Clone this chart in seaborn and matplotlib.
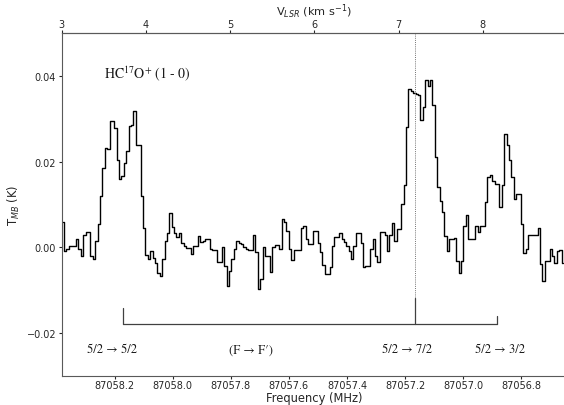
import numpy as np
import matplotlib
matplotlib.use("Agg")
import matplotlib.pyplot as plt
import seaborn as sns
import pandas as pd

# ---- spectrum (T_MB in K per channel, high to low frequency) ----
tmb = [
    0.0060, -0.0009, -0.0003, 0.0002, 0.0004, 0.0003, 0.0020, -0.0004, -0.0020, 0.0028,
    0.0035, 0.0036, -0.0020, -0.0028, 0.0015, 0.0054, 0.0121, 0.0185, 0.0232, 0.0230,
    0.0294, 0.0296, 0.0279, 0.0205, 0.0160, 0.0166, 0.0197, 0.0226, 0.0284, 0.0286,
    0.0318, 0.0238, 0.0238, 0.0119, 0.0046, -0.0019, -0.0027, -0.0009, -0.0024, -0.0036,
    -0.0060, -0.0066, -0.0027, 0.0015, 0.0033, 0.0081, 0.0048, 0.0034, 0.0025, 0.0034,
    0.0011, 0.0003, -0.0001, -0.0002, -0.0016,
    0.0002, 0.0003, 0.0027, 0.0013, 0.0015, 0.0020, 0.0019, -0.0005, -0.0006, -0.0006,
    -0.0035, -0.0035, 0.0000, -0.0044, -0.0091, -0.0056, -0.0028, -0.0005, 0.0015, 0.0011,
    0.0007, 0.0000, -0.0005, -0.0007, -0.0007, 0.0028, -0.0011, -0.0098, -0.0073, 0.0000,
    -0.0020, -0.0020, -0.0058, 0.0000, 0.0005, 0.0005, -0.0005, 0.0066, 0.0060, 0.0038,
    -0.0005, -0.0030, -0.0006, -0.0006, -0.0006, 0.0046, 0.0050, 0.0019, 0.0008, 0.0007,
    0.0038, 0.0037, 0.0011, -0.0012, -0.0042, -0.0063, -0.0062, -0.0045, 0.0003, 0.0025,
    0.0023, 0.0034, 0.0019, 0.0013, 0.0003, -0.0009, -0.0027, 0.0003, 0.0034, 0.0034,
    0.0011, -0.0045, -0.0044, -0.0043, -0.0003, 0.0020, -0.0020, -0.0035, 0.0036, 0.0035,
    0.0028, -0.0009, 0.0028, 0.0056, 0.0015, 0.0042, 0.0043, 0.0101, 0.0146, 0.0280,
    0.0371, 0.0365, 0.0361, 0.0358, 0.0356, 0.0297, 0.0327, 0.0390, 0.0378, 0.0390,
    0.0332, 0.0211, 0.0140, 0.0109, 0.0082, 0.0027, -0.0009, 0.0020, 0.0020, 0.0021,
    -0.0033, -0.0060, -0.0033, 0.0049, 0.0075, 0.0020, 0.0020, 0.0020, 0.0050, 0.0035,
    0.0050, 0.0050, 0.0107, 0.0164, 0.0168, 0.0156, 0.0148, 0.0148, 0.0093, 0.0146,
    0.0264, 0.0238, 0.0205, 0.0164, 0.0113, 0.0125, 0.0125, 0.0054, -0.0014, -0.0005,
    0.0028, 0.0028, 0.0028, 0.0028, 0.0046, -0.0040, -0.0079, -0.0032, -0.0032, -0.0003,
    -0.0020, -0.0036, -0.0009, -0.0006, -0.0036,
]
F_START = 87058.382      # MHz, first channel edge
CHAN_WIDTH = 0.00823     # MHz
F_END = 87056.6465       # MHz, right plot limit
V_START = 3.0            # km/s at F_START
KMS_PER_MHZ = 3.45
V_SYS = 7.2              # km/s

# hyperfine components (F -> F')
comp_freq = [87058.171, 87057.166, 87056.884]
comp_top = [-0.0142, -0.0119, -0.0161]
bracket_y = -0.0179
label_freq = [87058.207, 87057.729, 87057.192, 87056.873]
label_text = ["5/2 \u2192 5/2", "(F \u2192 F\u2032)", "5/2 \u2192 7/2", "5/2 \u2192 3/2"]
label_y = -0.0239

freq_ticks = [87058.2, 87058.0, 87057.8, 87057.6, 87057.4, 87057.2, 87057.0, 87056.8]
vel_ticks = [3, 4, 5, 6, 7, 8]
y_ticks = [-0.02, 0.0, 0.02, 0.04]

freq = F_START - CHAN_WIDTH * (np.arange(len(tmb)) + 0.5)
df = pd.DataFrame({"freq": freq, "tmb": tmb})

sns.set_style("ticks")
plt.rcParams["font.family"] = ["DejaVu Sans"]

fig = plt.figure(figsize=(5.64, 4.06), dpi=100)
ax = fig.add_axes([61.7 / 564, 29.3 / 406, 504.3 / 564, 342.4 / 406])

sns.lineplot(data=df, x="freq", y="tmb", drawstyle="steps-mid", color="black",
             linewidth=1.0, errorbar=None, ax=ax)

ax.set_xlim(F_START, F_END)
ax.set_ylim(-0.03, 0.05)

def f2v(f):
    return V_START + (F_START - np.asarray(f)) * KMS_PER_MHZ

def v2f(v):
    return F_START - (np.asarray(v) - V_START) / KMS_PER_MHZ

f_sys = float(v2f(V_SYS))
ax.plot([f_sys, f_sys], [0.05, comp_top[1]], color="0.45", linestyle=(0, (1, 1.2)), lw=0.7)

# bracket
ax.plot([comp_freq[0], comp_freq[2]], [bracket_y, bracket_y], color="0.25", lw=0.9)
for cf, ct in zip(comp_freq, comp_top):
    ax.plot([cf, cf], [bracket_y, ct], color="0.25", lw=0.9)

for lf, lt in zip(label_freq, label_text):
    ax.text(lf, label_y, lt, ha="center", va="center", fontsize=9,
            fontfamily="STIXGeneral", color="0.1")

ax.text(87058.238, 0.0409, "HC$^{17}$O$^{+}$ (1 - 0)", ha="left", va="center",
        fontsize=10, fontfamily="STIXGeneral", math_fontfamily="stix", color="0.1")

ax.set_xticks(freq_ticks)
ax.set_xticklabels([f"{t:.1f}" for t in freq_ticks])
ax.set_yticks(y_ticks)
ax.set_yticklabels(["\u22120.02", "0.00", "0.02", "0.04"])
ax.tick_params(axis="x", labelsize=7, length=2.5, pad=0.8, width=0.8)
ax.tick_params(axis="y", labelsize=7, length=2.5, pad=1.5, width=0.8)
ax.set_xlabel("Frequency (MHz)", fontsize=8.3, labelpad=0.3)
ax.set_ylabel("T$_{MB}$ (K)", fontsize=8.3, labelpad=3)

secax = ax.secondary_xaxis("top", functions=(f2v, v2f))
secax.set_xticks(vel_ticks)
secax.set_xticklabels([str(v) for v in vel_ticks])
secax.tick_params(labelsize=7, length=2.0, pad=0.8, width=0.8)
secax.set_xlabel("V$_{LSR}$ (km s$^{-1}$)", fontsize=8.2, labelpad=3.2)

for s in ["left", "bottom", "top"]:
    ax.spines[s].set_color("0.35")
    ax.spines[s].set_linewidth(0.8)
secax.spines["top"].set_color("0.35")
ax.spines["right"].set_visible(False)

fig.savefig("out.png", dpi=100)
